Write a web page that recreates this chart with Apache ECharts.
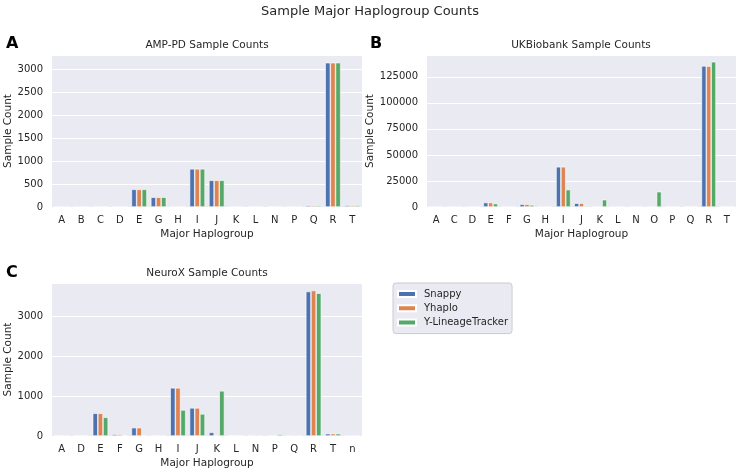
<!DOCTYPE html>
<html>
<head>
    <meta charset="utf-8">
    <script src="https://cdn.jsdelivr.net/npm/echarts@6/dist/echarts.min.js"></script>
    <style>
        html, body { margin: 0; padding: 0; background: #fff; }
        #chart { width: 740px; height: 472px; }
    </style>
</head>
<body>
<div id="chart"></div>
<script>
// AMP-PD
var ampCats = ['A', 'B', 'C', 'D', 'E', 'G', 'H', 'I', 'J', 'K', 'L', 'N', 'P', 'Q', 'R', 'T'];
var ampSnappy = [2, 1, 3, 2, 386, 214, 1, 833, 583, 2, 8, 10, 3, 32, 3150, 35];
var ampYhaplo = [2, 1, 3, 2, 386, 214, 1, 833, 583, 2, 8, 10, 3, 32, 3150, 35];
var ampYlt = [2, 1, 3, 2, 386, 214, 1, 833, 583, 2, 8, 10, 3, 32, 3150, 35];
// UKBiobank
var ukbCats = ['A', 'C', 'D', 'E', 'F', 'G', 'H', 'I', 'J', 'K', 'L', 'N', 'O', 'P', 'Q', 'R', 'T'];
var ukbSnappy = [50, 60, 100, 4300, 100, 2650, 150, 38600, 3650, 100, 50, 80, 200, 300, 600, 135500, 450];
var ukbYhaplo = [50, 60, 100, 4300, 100, 2650, 150, 38600, 3650, 100, 50, 80, 200, 300, 600, 135300, 450];
var ukbYlt = [50, 60, 100, 3300, 100, 2000, 150, 16700, 1000, 7000, 50, 80, 14700, 300, 600, 139400, 450];
// NeuroX
var nxCats = ['A', 'D', 'E', 'F', 'G', 'H', 'I', 'J', 'K', 'L', 'N', 'P', 'Q', 'R', 'T', 'n'];
var nxSnappy = [5, 10, 571, 42, 210, 5, 1210, 706, 92, 12, 8, 5, 8, 3630, 59, 3];
var nxYhaplo = [5, 10, 571, 42, 210, 5, 1210, 706, 0, 12, 25, 5, 25, 3655, 59, 3];
var nxYlt = [5, 15, 471, 8, 10, 5, 655, 555, 1134, 12, 5, 42, 5, 3588, 59, 3];

var toolNames = ['Snappy', 'Yhaplo', 'Y-LineageTracker'];
var toolColors = ['#4c72b0', '#dd8452', '#55a868'];

var font = 'DejaVu Sans';
var txt = '#262626';

var chart = echarts.init(document.getElementById('chart'));

function xAx(idx, cats) {
    return {
        type: 'category', gridIndex: idx, data: cats,
        axisLine: { show: false }, axisTick: { show: false },
        axisLabel: { color: txt, fontSize: 10, fontFamily: font, margin: 8, interval: 0 },
        name: 'Major Haplogroup', nameLocation: 'middle', nameGap: 22,
        nameTextStyle: { color: txt, fontSize: 10.5, fontFamily: font }
    };
}
function yAx(idx, max, interval, gap) {
    return {
        type: 'value', gridIndex: idx, min: 0, max: max, interval: interval,
        axisLine: { show: false }, axisTick: { show: false },
        axisLabel: {
            color: txt, fontSize: 10, fontFamily: font, margin: 9, showMaxLabel: false,
            formatter: function (v) { return String(v); }
        },
        splitLine: { lineStyle: { color: '#ffffff', width: 1 } },
        name: 'Sample Count', nameLocation: 'middle', nameGap: gap,
        nameTextStyle: { color: txt, fontSize: 10.5, fontFamily: font }
    };
}
function bars(idx, arrs) {
    return arrs.map(function (d, i) {
        return {
            name: toolNames[i], type: 'bar', xAxisIndex: idx, yAxisIndex: idx,
            data: d, barGap: '0%', barCategoryGap: '20%',
            itemStyle: { color: toolColors[i], borderColor: '#ffffff', borderWidth: 0.6 },
            silent: true
        };
    });
}

var option = {
    animation: false,
    backgroundColor: '#ffffff',
    title: [
        { text: 'Sample Major Haplogroup Counts', left: 370, top: 5, textAlign: 'center', padding: 0,
          textStyle: { fontSize: 13, fontWeight: 'normal', color: txt, fontFamily: font } },
        { text: 'A', left: 6, top: 36, padding: 0,
          textStyle: { fontSize: 16, fontWeight: 'bold', color: '#000', fontFamily: font } },
        { text: 'B', left: 370, top: 36, padding: 0,
          textStyle: { fontSize: 16, fontWeight: 'bold', color: '#000', fontFamily: font } },
        { text: 'C', left: 6, top: 265, padding: 0,
          textStyle: { fontSize: 16, fontWeight: 'bold', color: '#000', fontFamily: font } },
        { text: 'AMP-PD Sample Counts', left: 207, top: 40, textAlign: 'center', padding: 0,
          textStyle: { fontSize: 10.5, fontWeight: 'normal', color: txt, fontFamily: font } },
        { text: 'UKBiobank Sample Counts', left: 581, top: 40, textAlign: 'center', padding: 0,
          textStyle: { fontSize: 10.5, fontWeight: 'normal', color: txt, fontFamily: font } },
        { text: 'NeuroX Sample Counts', left: 207, top: 268, textAlign: 'center', padding: 0,
          textStyle: { fontSize: 10.5, fontWeight: 'normal', color: txt, fontFamily: font } }
    ],
    legend: {
        data: toolNames, orient: 'vertical', left: 393, top: 283,
        icon: 'rect', itemWidth: 18, itemHeight: 6, itemGap: 2.3,
        backgroundColor: '#eaeaf2', borderColor: '#cccccc', borderWidth: 1, borderRadius: 3,
        padding: [5, 4, 5, 4],
        textStyle: { color: txt, fontSize: 10, fontFamily: font, lineHeight: 12, padding: [0, 0, 0, 3] },
        selectedMode: false
    },
    grid: [
        { left: 52, right: 378, top: 55, height: 152, show: true, backgroundColor: '#eaeaf2', borderWidth: 0 },
        { left: 427, right: 4, top: 55, height: 152, show: true, backgroundColor: '#eaeaf2', borderWidth: 0 },
        { left: 52, right: 378, top: 283, height: 153, show: true, backgroundColor: '#eaeaf2', borderWidth: 0 }
    ],
    xAxis: [xAx(0, ampCats), xAx(1, ukbCats), xAx(2, nxCats)],
    yAxis: [yAx(0, 3318, 500, 34), yAx(1, 145950, 25000, 49), yAx(2, 3843, 1000, 34)],
    series: [].concat(
        bars(0, [ampSnappy, ampYhaplo, ampYlt]),
        bars(1, [ukbSnappy, ukbYhaplo, ukbYlt]),
        bars(2, [nxSnappy, nxYhaplo, nxYlt])
    )
};
chart.setOption(option);
</script>
</body>
</html>
